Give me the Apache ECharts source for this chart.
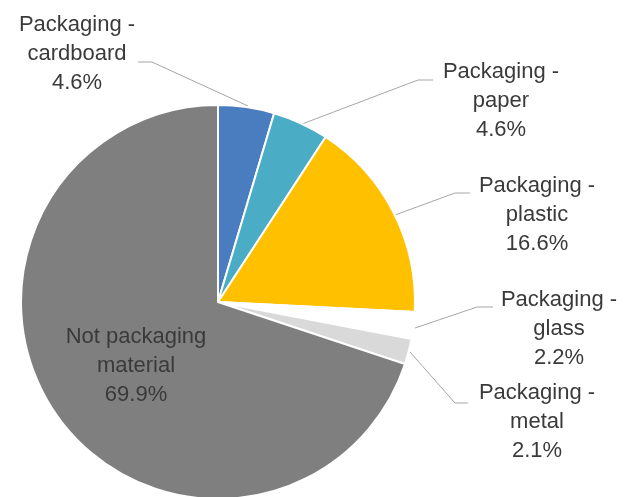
<!DOCTYPE html>
<html>
<head>
<meta charset="utf-8">
<script src="https://cdn.jsdelivr.net/npm/echarts@6/dist/echarts.min.js"></script>
<style>
html, body { margin: 0; padding: 0; background: #fff; }
#chart { width: 626px; height: 497px; }
</style>
</head>
<body>
<div id="chart"></div>
<script>
// categories and shares (%)
var categories = ['Packaging - cardboard', 'Packaging - paper', 'Packaging - plastic',
  'Packaging - glass', 'Packaging - metal', 'Not packaging material'];
var shares = [4.6, 4.6, 16.6, 2.2, 2.1, 69.9];
var colors = ['#4a7cc0', '#4bacc6', '#ffc000', '#ffffff', '#d9d9d9', '#7f7f7f'];

// label spots (centre of text block) and leader lines
var labelPos = [[77, 54], [501, 101], [537, 215], [559, 329], [537, 422], [136, 366]];
var linePts = [
  [[248, 106], [152, 62], [138, 62]],
  [[302, 124], [418, 80], [433, 80]],
  [[395, 215], [455, 193], [470, 193]],
  [[415, 328], [477, 307], [493, 307]],
  [[410, 352], [455, 403], [468, 403]],
  null
];

function wrapName(n) {
  if (n.indexOf(' - ') >= 0) return n.replace(' - ', ' -\n');
  return n.replace('Not packaging ', 'Not packaging\n');
}

var myChart = echarts.init(document.getElementById('chart'));

var option = {
  animation: false,
  series: [{
    type: 'pie',
    center: [218, 302],
    radius: 197,
    startAngle: 90,
    clockwise: true,
    avoidLabelOverlap: false,
    itemStyle: { borderColor: '#fff', borderWidth: 2 },
    label: {
      show: true,
      position: 'outside',
      fontFamily: 'Liberation Sans, Arial, sans-serif',
      fontSize: 22,
      lineHeight: 29,
      color: '#3a3a3a',
      align: 'center',
      formatter: function (p) {
        return wrapName(p.name) + '\n' + p.value.toFixed(1) + '%';
      }
    },
    labelLine: {
      show: true,
      lineStyle: { color: '#a6a6a6', width: 1 }
    },
    labelLayout: function (p) {
      var i = p.dataIndex;
      var out = {
        x: labelPos[i][0],
        y: labelPos[i][1],
        align: 'center',
        verticalAlign: 'middle'
      };
      if (linePts[i]) out.labelLinePoints = linePts[i];
      return out;
    },
    data: categories.map(function (c, i) {
      var d = { name: c, value: shares[i], itemStyle: { color: colors[i] } };
      if (i === 5) d.labelLine = { show: false };
      return d;
    })
  }]
};

myChart.setOption(option);
</script>
</body>
</html>
